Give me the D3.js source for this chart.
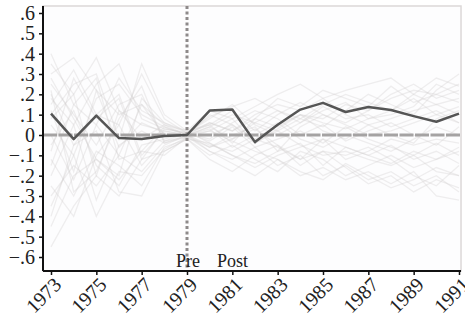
<!DOCTYPE html>
<html>
<head>
<meta charset="utf-8">
<script src="https://cdn.jsdelivr.net/npm/d3@7"></script>
<style>
  body { margin: 0; background: #fff; }
  svg text { font-family: "Liberation Serif"; fill: #222; }
</style>
</head>
<body>
<div id="chart"></div>
<script>
const years = d3.range(1973, 1992);
const yearTicks = [1973, 1975, 1977, 1979, 1981, 1983, 1985, 1987, 1989, 1991];
const yTicks = [0.6, 0.5, 0.4, 0.3, 0.2, 0.1, 0, -0.1, -0.2, -0.3, -0.4, -0.5, -0.6];

// treated unit
const treated = [0.105, -0.02, 0.095, -0.015, -0.02, -0.005, 0.0, 0.12, 0.125, -0.035, 0.05, 0.125, 0.158, 0.113, 0.138, 0.123, 0.093, 0.065, 0.105];

// placebo units (light gray)
const placebos = [
  [0.35, 0.20, 0.38, 0.12, 0.05, 0.02, 0.00, -0.05, -0.08, -0.02, 0.05, 0.10, 0.08, 0.15, 0.12, 0.18, 0.22, 0.20, 0.25],
  [-0.30, -0.15, -0.25, -0.10, -0.18, -0.05, 0.00, 0.04, 0.10, 0.06, 0.02, -0.05, -0.10, -0.08, -0.12, -0.15, -0.10, -0.18, -0.20],
  [0.15, 0.32, 0.10, 0.05, 0.30, 0.08, 0.01, 0.06, 0.02, 0.10, 0.15, 0.12, 0.18, 0.10, 0.05, 0.08, 0.12, 0.15, 0.10],
  [-0.45, -0.20, -0.12, -0.22, -0.08, -0.10, -0.01, -0.08, -0.12, -0.06, -0.15, -0.10, -0.20, -0.15, -0.22, -0.18, -0.25, -0.20, -0.28],
  [0.05, -0.10, 0.18, 0.25, 0.10, 0.04, 0.00, 0.10, 0.05, -0.04, 0.02, 0.08, 0.04, 0.12, 0.20, 0.15, 0.10, 0.22, 0.30],
  [0.25, 0.10, -0.05, 0.15, 0.20, -0.03, 0.01, -0.02, 0.06, 0.12, 0.08, 0.00, 0.05, -0.03, 0.02, 0.06, 0.00, -0.05, 0.04],
  [-0.12, -0.30, -0.08, -0.15, -0.25, -0.06, -0.02, -0.10, -0.05, -0.12, -0.18, -0.08, -0.12, -0.20, -0.15, -0.10, -0.16, -0.12, -0.08],
  [0.40, 0.15, 0.05, 0.28, 0.12, 0.06, 0.01, 0.08, 0.15, 0.05, 0.00, 0.06, 0.14, 0.08, 0.10, 0.04, 0.08, 0.12, 0.06],
  [-0.20, 0.05, -0.32, -0.05, 0.02, -0.04, 0.00, 0.03, -0.06, 0.00, 0.06, -0.02, -0.06, 0.00, -0.04, -0.08, -0.02, 0.04, 0.00],
  [0.10, 0.25, 0.30, -0.02, 0.35, 0.10, 0.02, 0.12, 0.08, 0.14, 0.20, 0.25, 0.18, 0.22, 0.25, 0.28, 0.20, 0.15, 0.18],
  [-0.55, -0.35, -0.20, -0.30, -0.12, -0.08, -0.02, -0.12, -0.18, -0.10, -0.05, -0.15, -0.08, -0.10, -0.06, -0.12, -0.20, -0.25, -0.15],
  [0.20, -0.05, 0.10, 0.20, -0.10, 0.02, 0.00, -0.06, 0.00, 0.04, -0.08, 0.04, 0.10, 0.05, 0.00, 0.02, 0.06, 0.10, 0.14],
  [-0.05, 0.12, -0.15, -0.25, -0.05, -0.02, 0.01, 0.05, 0.12, 0.02, 0.10, 0.16, 0.10, 0.06, 0.12, 0.20, 0.25, 0.18, 0.22],
  [0.30, 0.38, 0.22, 0.10, 0.15, 0.05, 0.02, -0.04, -0.10, -0.14, -0.08, -0.04, -0.15, -0.06, -0.10, -0.05, -0.12, -0.08, -0.14],
  [-0.35, -0.10, -0.40, -0.18, -0.20, -0.07, -0.01, 0.02, -0.03, -0.08, -0.12, -0.20, -0.16, -0.22, -0.18, -0.24, -0.18, -0.30, -0.32],
  [0.00, -0.22, 0.05, -0.10, 0.15, 0.00, 0.00, 0.06, 0.02, 0.08, 0.04, 0.10, 0.06, 0.03, 0.08, 0.12, 0.18, 0.10, 0.06],
  [0.18, 0.05, 0.25, 0.35, 0.08, 0.03, 0.01, -0.03, 0.04, -0.06, -0.02, 0.02, -0.04, 0.04, -0.02, -0.06, -0.10, -0.04, -0.10],
  [-0.25, -0.40, -0.10, 0.05, -0.15, -0.03, -0.01, 0.00, 0.05, -0.02, -0.06, -0.12, -0.02, -0.06, -0.10, -0.14, -0.08, -0.12, -0.06],
  [0.08, 0.20, -0.20, 0.12, -0.02, 0.05, 0.00, 0.04, -0.02, 0.06, 0.12, 0.06, 0.12, 0.16, 0.08, 0.10, 0.14, 0.25, 0.20],
  [-0.40, -0.05, 0.02, -0.28, -0.30, -0.08, -0.02, -0.04, -0.10, -0.16, -0.10, -0.06, -0.02, -0.12, -0.08, -0.02, -0.05, -0.02, -0.04],
  [0.12, -0.18, 0.22, -0.06, 0.06, 0.01, 0.00, -0.08, -0.14, -0.20, -0.12, -0.18, -0.22, -0.14, -0.20, -0.26, -0.22, -0.16, -0.20],
  [-0.08, 0.28, 0.08, 0.18, -0.12, 0.03, 0.01, 0.09, 0.14, 0.18, 0.12, 0.08, 0.15, 0.20, 0.16, 0.12, 0.20, 0.28, 0.24],
  [0.22, -0.28, -0.18, 0.08, 0.24, -0.04, -0.01, -0.06, -0.02, 0.03, -0.05, -0.12, -0.08, -0.16, -0.24, -0.20, -0.28, -0.22, -0.26],
  [-0.15, 0.15, 0.28, -0.12, -0.08, 0.04, 0.00, 0.02, 0.08, -0.04, 0.03, 0.10, 0.02, -0.02, 0.05, 0.00, -0.04, 0.08, 0.12],
  [0.28, 0.08, -0.12, -0.20, 0.18, 0.06, 0.02, 0.05, -0.04, 0.08, 0.18, 0.14, 0.22, 0.18, 0.14, 0.24, 0.16, 0.20, 0.16]
];

const width = 465, height = 323;
const plotLeft = 43, plotRight = 461, plotTop = 6, plotBottom = 271;

const svg = d3.select("#chart")
  .append("svg")
  .attr("width", width)
  .attr("height", height);

const x = d3.scaleLinear().domain([1973, 1991]).range([51, 459]);
const y = d3.scaleLinear().domain([-0.6, 0.6]).range([257, 13]);

// plot frame (light top/right edges)
svg.append("rect")
  .attr("x", plotLeft).attr("y", plotTop)
  .attr("width", plotRight - plotLeft).attr("height", plotBottom - plotTop)
  .attr("fill", "#fdfdfe")
  .attr("stroke", "#dcd8d8")
  .attr("stroke-width", 1.5);

const line = d3.line()
  .x((d, i) => x(years[i]))
  .y(d => y(d));

// placebo lines
svg.append("g")
  .selectAll("path")
  .data(placebos)
  .enter()
  .append("path")
  .attr("d", line)
  .attr("fill", "none")
  .attr("stroke", "#cfcccc")
  .attr("stroke-opacity", 0.32)
  .attr("stroke-width", 1.3);

// zero line
svg.append("line")
  .attr("x1", plotLeft).attr("x2", plotRight)
  .attr("y1", y(0)).attr("y2", y(0))
  .attr("stroke", "#a5a3a3")
  .attr("stroke-width", 3)
  .attr("stroke-dasharray", "14,1.5");

// treatment year
svg.append("line")
  .attr("x1", x(1979)).attr("x2", x(1979))
  .attr("y1", plotTop).attr("y2", plotBottom)
  .attr("stroke", "#8e8a8a")
  .attr("stroke-width", 3)
  .attr("stroke-dasharray", "3,2.5");

// treated line
svg.append("path")
  .datum(treated)
  .attr("d", line)
  .attr("fill", "none")
  .attr("stroke", "#555")
  .attr("stroke-width", 2.5)
  .attr("stroke-linejoin", "round");

// Y axis
const fmt = d => d === 0 ? "0" : (d < 0 ? "\u2212" : "") + d3.format(".1f")(Math.abs(d)).replace(/^0/, "");
const yAxis = svg.append("g")
  .attr("transform", "translate(" + plotLeft + ",0)")
  .call(d3.axisLeft(y).tickValues(yTicks).tickFormat(fmt).tickSize(4).tickSizeOuter(0))
  .attr("font-family", "Liberation Serif")
  .attr("font-size", 20);
yAxis.select(".domain").attr("d", "M0," + plotTop + "V" + plotBottom).attr("stroke", "#111").attr("stroke-width", 2);
yAxis.selectAll(".tick line").attr("stroke", "#111").attr("stroke-width", 1.5);
yAxis.selectAll("text")
  .attr("x", -8)
  .attr("fill", "#222");

// X axis
const xAxis = svg.append("g")
  .attr("transform", "translate(0," + plotBottom + ")")
  .call(d3.axisBottom(x).tickValues(yearTicks).tickFormat(d3.format("d")).tickSize(4).tickSizeOuter(0))
  .attr("font-family", "Liberation Serif")
  .attr("font-size", 20);
xAxis.select(".domain").attr("d", "M" + plotLeft + ",0H" + plotRight).attr("stroke", "#111").attr("stroke-width", 2);
xAxis.selectAll(".tick line").attr("stroke", "#111").attr("stroke-width", 1.5);
xAxis.selectAll("text")
  .attr("y", 0).attr("dy", 0)
  .attr("fill", "#222")
  .attr("transform", "translate(11,15)rotate(-45)")
  .style("text-anchor", "end");

// Pre / Post labels
svg.append("text")
  .attr("x", x(1979) - 11).attr("y", plotBottom - 4)
  .attr("font-size", 18)
  .text("Pre");
svg.append("text")
  .attr("x", x(1979) + 30).attr("y", plotBottom - 4)
  .attr("font-size", 18)
  .text("Post");
</script>
</body>
</html>
